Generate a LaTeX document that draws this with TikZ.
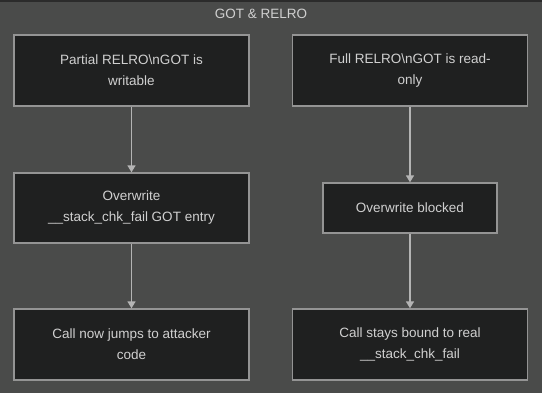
\documentclass[tikz,border=0pt]{standalone}
\usepackage{fontspec}
\setmainfont{Liberation Sans}
\usetikzlibrary{arrows.meta}
\definecolor{bgout}{HTML}{2B2B2B}
\definecolor{bgclu}{HTML}{4A4B4A}
\definecolor{boxfill}{HTML}{1F2020}
\definecolor{boxline}{HTML}{949494}
\definecolor{txt}{HTML}{D0D0D0}
\definecolor{edge}{HTML}{B4B4B4}
\begin{document}
\begin{tikzpicture}[
    x=1pt, y=-1pt,
    font=\fontsize{13.5}{21}\selectfont,
    box/.style={draw=boxline, line width=1.3pt, fill=boxfill, text=txt,
      align=center, inner sep=2pt, minimum width=235pt, minimum height=71pt},
    flow/.style={draw=edge, line width=1.4pt,
      -{Triangle[width=8pt,length=7pt]}},
  ]

  % --- sfondo e riquadro del gruppo ---
  \useasboundingbox (0,0) rectangle (542,393);
  \fill[bgclu] (0,0) rectangle (542,393);
  \fill[bgout] (0,0) rectangle (542,2);
  \node[text=txt, font=\fontsize{13.5}{16}\selectfont] (title) at (261,14) {GOT \& RELRO};

  % --- colonna sinistra: partial RELRO ---
  \node[box] (partial) at (131.5,70.5) {Partial RELRO\textbackslash nGOT is\\writable};
  \node[box, minimum height=70pt] (overwrite) at (131.5,208) {Overwrite\\\_\_stack\_chk\_fail GOT entry};
  \node[box] (jumps) at (131.5,344.5) {Call now jumps to attacker\\code};

  % --- colonna destra: full RELRO ---
  \node[box] (full) at (410,70.5) {Full RELRO\textbackslash nGOT is read-\\only};
  \node[box, minimum width=174pt, minimum height=50pt] (blocked) at (410,208) {Overwrite blocked};
  \node[box] (bound) at (410,344.5) {Call stays bound to real\\\_\_stack\_chk\_fail};

  % --- collegamenti ---
  \draw[flow] (partial) -- (overwrite);
  \draw[flow] (overwrite) -- (jumps);
  \draw[flow] (full) -- (blocked);
  \draw[flow] (blocked) -- (bound);

\end{tikzpicture}
\end{document}
